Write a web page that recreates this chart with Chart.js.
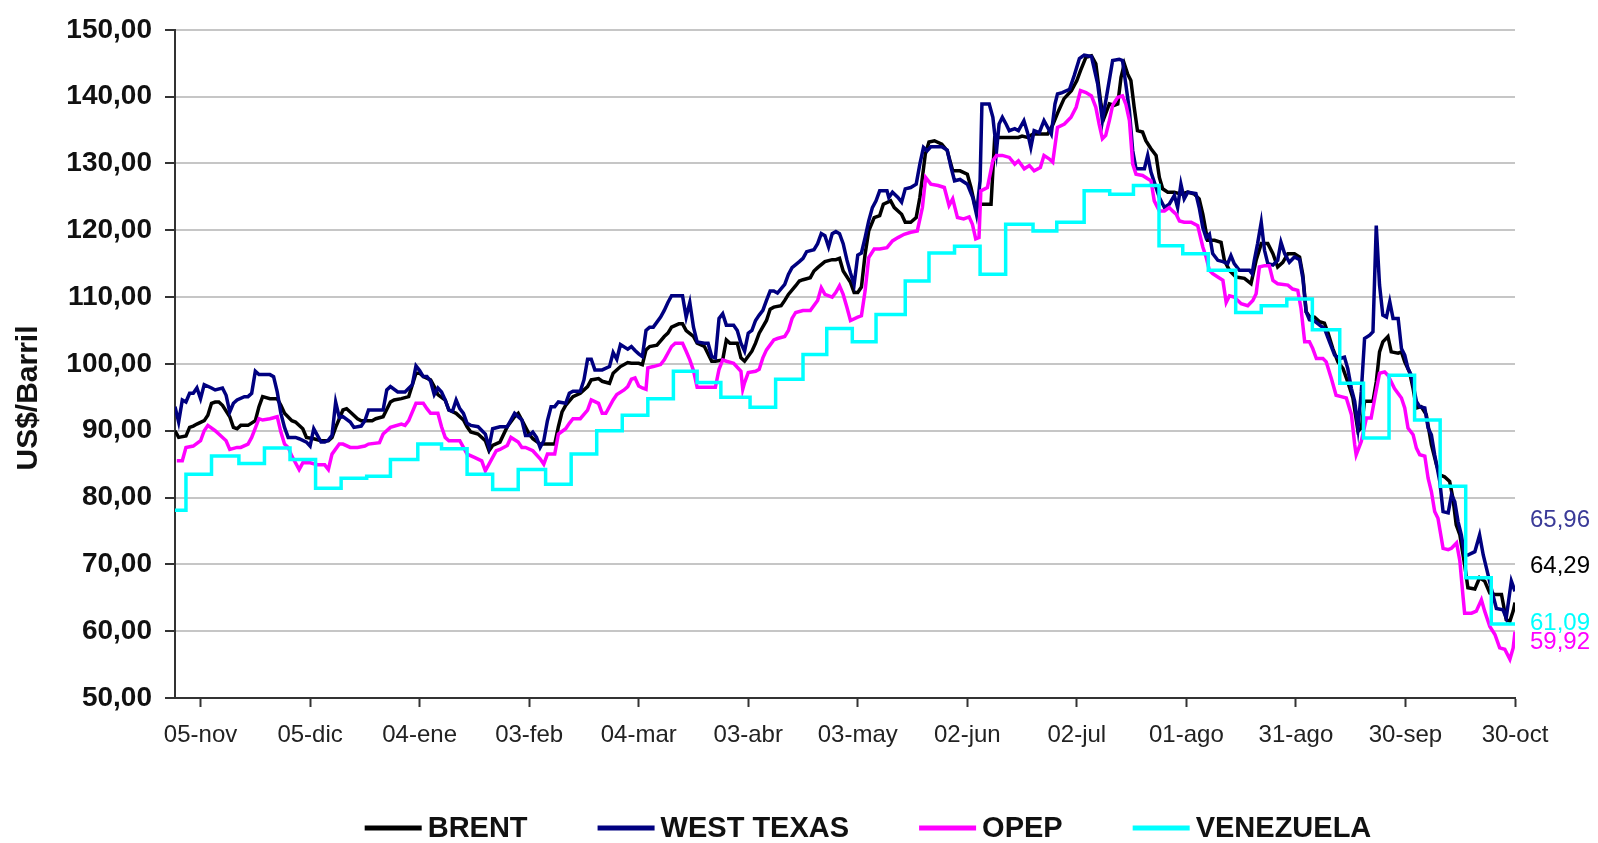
<!DOCTYPE html>
<html>
<head>
<meta charset="utf-8">
<title>Precios del petróleo</title>
<script src="https://cdn.jsdelivr.net/npm/chart.js@4.4.1/dist/chart.umd.min.js"></script>
<style>
  body { margin: 0; background: #fff; }
  canvas { display: block; }
</style>
</head>
<body>
<canvas id="oilChart" width="1598" height="843"></canvas>
<script>
// x = days counted from 29-oct-2007, y = US$/barril
const xTickDays = [7, 37, 67, 97, 127, 157, 187, 217, 247, 277, 307, 337, 367];
const xTickLabels = ["05-nov", "05-dic", "04-ene", "03-feb", "04-mar", "03-abr", "03-may",
  "02-jun", "02-jul", "01-ago", "31-ago", "30-sep", "30-oct"];
const seriesNames = ["BRENT", "WEST TEXAS", "OPEP", "VENEZUELA"];

const brent = [[0,90.0],[1,89.0],[3,89.2],[4,90.5],[5,90.7],[6,91.0],[8,91.5],[9,92.3],[10,94.1],[11,94.3],[12,94.3],[13,93.8],[15,92.1],[16,90.5],[17,90.3],[18,90.8],[20,90.8],[22,91.5],[23,93.6],[24,95.1],[26,94.8],[28,94.8],[29,93.8],[30,92.6],[32,91.5],[33,91.3],[35,90.3],[36,89.0],[38,88.8],[40,88.5],[42,88.5],[43,89.0],[44,90.5],[46,93.1],[47,93.3],[48,92.8],[50,91.8],[51,91.5],[54,91.5],[55,91.8],[57,92.1],[59,94.3],[60,94.6],[62,94.8],
  [64,95.1],[66,98.6],[67,98.6],[68,98.1],[70,97.6],[71,96.6],[72,95.4],[74,94.6],[75,93.1],[77,92.6],[79,91.6],[80,90.6],[81,89.8],[83,89.5],[85,88.5],[86,87.0],[87,87.8],[89,88.3],[91,90.6],[93,92.1],[94,92.6],[95,91.6],[97,89.5],[98,88.8],[100,88.0],[102,88.0],[104,88.0],[105,90.6],[106,92.8],[107,93.8],[109,95.1],[111,95.6],[113,96.6],[114,97.6],[116,97.8],[117,97.4],[119,97.1],[120,98.6],[122,99.6],[124,100.2],
  [125,100.1],[127,100.1],[128,99.9],[129,102.1],[130,102.6],[132,102.8],[134,104.1],[135,104.6],[136,105.5],[138,106.0],[139,106.0],[140,105.0],[142,104.1],[143,103.1],[145,102.6],[147,100.4],[148,100.4],[150,100.6],[151,103.6],[152,103.1],[154,103.1],[155,100.9],[156,100.4],[158,101.9],[159,103.1],[160,104.6],[162,106.5],[163,108.2],[164,108.5],[166,108.7],[167,109.5],[168,110.4],[170,111.7],[171,112.4],[172,112.6],[174,112.9],[175,113.9],[176,114.4],[178,115.3],[180,115.6],[181,115.6],[182,115.8],[183,113.9],[185,112.2],[186,110.7],[187,110.7],
  [188,111.5],[189,116.4],[190,119.9],[191.5,121.9],[193,122.2],[194,123.9],[196,124.4],[197,123.4],[199,122.4],[200,121.2],[201.5,121.2],[203,121.9],[204,124.9],[205.5,131.4],[206.5,133.2],[208,133.4],[210,132.9],[211.5,131.9],[213,128.9],[215,128.9],[217,128.4],[218,126.4],[219,123.9],[221,123.9],[223.5,123.9],[224.5,133.9],[231,133.9],[232,134.1],[233.5,133.9],[235,134.4],[239,134.4],[240.5,135.9],[242,137.9],[243.5,139.7],[245.5,140.9],[247,142.4],[248,143.9],[249.5,145.9],[251,146.1],
  [252.2,144.9],[253.6,138.9],[254.5,136.9],[255.9,138.9],[257.2,138.7],[258.2,138.9],[259.1,142.9],[260,144.9],[260.9,143.4],[261.8,142.4],[262.7,138.4],[263.6,134.9],[265,134.7],[265.9,133.4],[267.3,132.2],[268.7,131.2],[269.6,127.9],[270.5,126.2],[271.9,125.7],[273.7,125.7],[275.5,125.4],[277.4,125.7],[279.2,125.4],[280.5,124.7],[281.5,122.4],[282.8,118.5],[284.7,118.5],[286.5,118.2],[287.4,115.5],[288.8,114.0],[290.6,113.0],[292.9,112.8],[294.7,112.0],[296.1,115.5],[297.5,118.0],[299.3,118.0],[300.7,116.5],[302,114.5],[303.4,115.2],[304.8,116.5],[306.6,116.5],[308,116.0],
  [308.9,113.3],[309.8,107.8],[310.7,107.1],[312.1,107.0],[313.5,106.3],[314.8,106.1],[315.8,104.6],[317.1,102.3],[318.5,100.3],[319.9,99.3],[321.2,97.3],[322.6,94.9],[324,89.9],[324.9,90.4],[325.8,94.4],[328.1,94.4],[329,97.3],[329.9,101.8],[330.8,103.3],[332.2,104.1],[333.1,101.8],[335,101.6],[335.9,101.8],[336.8,100.3],[338.1,98.8],[339.1,96.3],[340,93.4],[341.3,93.6],[342.7,92.4],[344.1,87.9],[345.5,84.9],[346.4,83.4],[347.7,83.1],[349.1,82.4],[350,79.9],[350.9,75.9],[351.9,74.4],[353.2,70.0],[354.1,66.5],[356,66.3],[357.3,68.0],[358.7,67.5],[360.1,65.7],[361.5,65.5],[363.3,65.5],[364.6,61.7],[365.6,61.5],[366.5,63.0],[367,64.29]];

const westTexas = [[0,93.6],[1,91.3],[2,94.6],[3,94.3],[4,95.6],[5,95.6],[6,96.4],[7,94.8],[8,96.9],[10,96.4],[11,96.1],[13,96.4],[14,95.3],[15,92.8],[16,94.1],[17,94.6],[19,95.1],[20,95.1],[21,95.6],[22,98.9],[23,98.4],[24,98.4],[26,98.4],[27,98.1],[28,95.8],[29,92.6],[30,90.5],[31,89.0],[33,89.0],[34,88.8],[36,88.3],[37,87.7],[38,90.3],[39,89.3],[40,88.3],[41,88.3],[42,88.6],[43,89.3],[44,94.3],[45,92.0],[46,92.1],[48,91.3],[49,90.5],[51,90.7],[52,91.5],[53,93.1],[55,93.1],[57,93.1],[58,96.1],[59,96.6],[61,95.8],[63,95.8],
  [65,96.9],[66,99.7],[67,99.0],[68,98.1],[69,98.1],[70,97.4],[71,95.4],[72,96.4],[73,95.8],[74,94.6],[75,93.1],[76,92.9],[77,94.6],[78,93.3],[79,92.6],[80,91.1],[81,90.8],[83,90.6],[85,89.5],[86,87.5],[87,90.3],[89,90.6],[91,90.6],[92,91.6],[93,92.6],[95,91.6],[96,89.3],[97,89.3],[98,89.8],[99,89.0],[100,87.5],[101,88.5],[102,91.5],[103,93.6],[104,93.6],[105,94.3],[107,94.1],[108,95.6],[109,95.9],[111,95.9],[112,97.6],[113,100.7],[114,100.7],[115,99.1],[117,99.1],[119,99.6],[120,101.7],[121,100.7],[122,102.9],[124,102.2],
  [125,102.6],[126,102.0],[127,101.5],[128,101.1],[129,105.0],[130,105.5],[131,105.5],[133,107.0],[134,108.0],[135,109.2],[136,110.2],[139,110.2],[140,107.0],[141,109.2],[142,105.5],[143,103.3],[145,103.1],[146,103.1],[147,101.1],[148,100.9],[149,106.8],[150,107.5],[151,105.8],[153,105.8],[154,105.0],[155,103.1],[156,101.9],[157,104.6],[158,105.0],[159,106.5],[160,107.3],[161,108.0],[162,109.5],[163,110.9],[164,110.9],[165,110.6],[167,111.9],[168,113.4],[169,114.4],[171,115.3],[172,115.8],[173,116.8],[175,117.1],[176,118.0],[177,119.5],[178,119.2],[179,117.5],[180,119.5],[181,119.8],[182,119.5],[183,118.0],[184,115.6],[185,113.6],[186,111.9],[187,116.3],[188,116.6],
  [189,118.9],[190,121.4],[191,123.4],[192,124.4],[193,125.9],[195,125.9],[195.5,124.9],[196.5,125.7],[198,124.9],[199,124.2],[200,126.2],[201.5,126.4],[203,126.9],[204,129.9],[205,132.4],[206,131.9],[207,132.5],[210,132.5],[211.5,132.0],[212.5,129.5],[213.5,127.4],[215,127.6],[217,126.9],[218.5,124.9],[219.5,122.4],[220.5,127.4],[221,138.9],[223,138.9],[224,136.9],[225,131.9],[225.7,135.9],[226.6,136.9],[227.6,135.9],[228.5,134.9],[230,135.2],[231,134.9],[232.5,136.4],[233.5,134.6],[234.4,132.4],[235.3,134.9],[236.7,134.6],[238,136.4],[239,135.4],[240,134.4],[241,138.9],[241.7,140.4],[243,140.6],[245,141.1],[246.3,143.2],[247.7,145.7],[249,146.2],[251,146.0],
  [252.7,141.9],[254,136.4],[255.4,140.9],[256.8,145.4],[258.6,145.6],[259.5,145.4],[260.4,141.9],[261.4,137.9],[262.3,131.9],[263.2,129.2],[265.5,129.2],[266.4,131.2],[267.3,128.7],[268.2,127.2],[269.6,124.9],[271,123.4],[272.3,123.9],[273.7,125.2],[274.6,123.4],[275.5,126.9],[276.4,124.7],[277.4,125.7],[279.6,125.5],[280.5,123.4],[281.5,120.4],[282.4,118.9],[283.3,119.4],[284.2,116.5],[285.6,115.5],[287,115.3],[288.3,115.0],[289.2,116.2],[290.1,115.0],[291.5,114.0],[294.3,114.0],[295,113.5],[295.6,115.5],[296.5,118.0],[297.5,121.2],[298.4,117.0],[299.3,115.0],[300.7,114.8],[302,115.5],[302.9,118.2],[303.9,116.5],[305.2,115.2],[306.6,116.0],[308,115.6],
  [308.9,112.8],[309.8,107.8],[310.7,106.6],[312.1,106.4],[313.5,105.8],[314.8,105.3],[316.2,103.3],[317.6,101.3],[319,100.8],[320.3,101.0],[321.2,99.3],[322.2,96.3],[323.1,94.4],[324,90.4],[324.9,95.8],[325.8,103.8],[327.2,104.3],[328.1,104.8],[329,120.7],[329.9,111.8],[330.8,107.3],[331.8,107.0],[332.7,109.3],[333.6,106.8],[335,106.8],[335.9,102.3],[336.8,101.3],[337.7,99.3],[338.6,98.3],[340,94.4],[340.9,93.6],[342.3,93.4],[343.2,90.4],[344.1,89.4],[345,86.4],[346.4,82.4],[347.3,77.9],[348.7,77.7],[349.6,80.4],[350.5,79.4],[351.4,76.4],[352.3,74.4],[353.2,71.4],[354.1,71.4],[356,71.9],[357.3,74.4],[358.3,71.4],[359.2,69.4],[360.5,66.4],[361.9,63.4],[363.7,63.2],[364.6,62.0],[366,67.5],[367,65.96]];

const opep = [[0.5,85.5],[2,85.5],[3,87.5],[5,87.7],[7,88.5],[8,90.0],[9,90.8],[11,90.0],[12,89.5],[14,88.5],[15,87.2],[17,87.5],[18,87.5],[20,88.0],[21,89.0],[23,91.8],[24,91.6],[26,91.8],[28,92.1],[29,89.8],[30,88.0],[31,87.5],[32,86.2],[34,84.2],[35,85.2],[37,85.2],[39,84.9],[41,84.9],[42,84.2],[43,86.5],[45,88.0],[46,88.0],[48,87.5],[50,87.5],[52,87.7],[53,88.0],[56,88.2],[57,89.5],[59,90.5],[62,91.0],[63,90.8],[64,91.5],
  [66,94.1],[68,94.1],[69,93.3],[70,92.6],[72,92.6],[73,90.6],[74,89.0],[75,88.5],[78,88.5],[79,87.5],[80,86.5],[82,86.0],[84,85.5],[85,84.0],[86,85.0],[88,87.0],[89,87.2],[91,87.8],[92,89.0],[94,88.3],[95,87.5],[96,87.5],[98,87.0],[100,85.8],[101,85.0],[102,86.5],[104,86.5],[105,89.5],[107,90.3],[108,91.1],[109,91.8],[111,91.8],[113,93.1],[114,94.6],[116,94.1],[117,92.6],[118,92.6],[120,94.6],[121,95.4],[123,96.1],[124,96.6],
  [125,97.7],[126,97.9],[127,96.7],[128,96.4],[129,96.2],[129.5,99.4],[131,99.6],[133,99.9],[134,100.6],[136,102.6],[137,103.1],[139,103.1],[140,101.9],[141,100.6],[142,99.0],[143,96.5],[145,96.5],[148,96.5],[149,99.2],[150,100.6],[151,100.4],[153,100.1],[155,98.9],[155.5,96.2],[156,97.2],[157,98.7],[159,98.9],[160,99.2],[161,100.9],[162,102.1],[164,103.6],[165,103.8],[167,104.1],[168,105.0],[169,106.8],[170,107.7],[172,108.0],[174,108.0],[176,109.5],[177,111.4],[178,110.4],[180,110.0],[181,110.7],[182,111.7],[183,110.4],[184,108.5],[185,106.5],[187,107.0],
  [188,107.2],[189,110.9],[190,115.9],[191.5,117.2],[193,117.2],[195,117.4],[196.5,118.4],[198,118.9],[199.7,119.4],[201.5,119.7],[203.3,119.9],[204.7,123.4],[205.6,127.9],[207,126.9],[209,126.7],[210.7,126.4],[212,123.7],[213,124.7],[214.3,121.9],[216,121.7],[217.5,122.0],[218.4,120.9],[219.3,118.7],[220.2,118.9],[220.7,125.9],[222.5,126.4],[224,130.4],[225,131.2],[226.6,131.2],[228.5,130.9],[230,129.9],[231,130.4],[232.6,129.2],[234,129.7],[235.3,128.9],[237,129.4],[238,131.2],[239.4,130.7],[240.4,130.2],[241.7,135.4],[243.6,135.9],[245.4,136.9],[246.8,138.4],[248,140.9],[249.5,140.6],[251,140.1],
  [252.2,138.4],[253.1,135.9],[254,133.7],[254.9,134.2],[255.9,136.4],[256.8,138.7],[258.2,139.9],[259.5,140.1],[260.4,138.9],[261.4,136.4],[262.3,129.9],[263.2,128.4],[265,128.2],[266.4,127.7],[267.3,127.4],[268.2,124.4],[269.6,122.9],[271,122.9],[272.3,123.4],[273.2,122.9],[274.2,122.4],[275.1,121.4],[276.4,121.2],[278.3,121.2],[280.1,120.7],[281.5,117.5],[282.4,116.0],[283.3,114.0],[284.2,113.5],[285.6,113.0],[287,112.5],[287.9,109.2],[288.8,110.2],[290.1,110.0],[292,109.0],[293.8,108.7],[295.2,109.5],[296.1,110.5],[297,114.5],[298.4,114.7],[299.7,114.7],[300.7,112.5],[302,112.0],[304.8,111.8],[306.1,111.2],[307.5,111.0],[308.4,108.3],[309.4,103.3],[310.7,103.3],
  [311.6,102.3],[312.6,100.8],[314.4,100.8],[315.3,100.3],[316.7,97.8],[318,95.3],[319.4,95.1],[320.8,94.9],[322.2,92.4],[323.1,87.9],[323.5,86.4],[324.9,88.4],[326.3,91.9],[327.6,91.9],[328.6,94.9],[329.9,98.6],[331.3,98.8],[332.2,98.3],[334,96.3],[335.9,94.9],[336.8,93.4],[337.7,90.4],[339.1,89.4],[340,87.4],[340.9,86.4],[342.3,86.2],[343.2,82.9],[344.1,80.9],[345,77.9],[345.9,76.9],[347.3,72.4],[348.7,72.2],[349.6,72.4],[351,73.2],[351.9,70.5],[352.8,65.0],[353.2,62.7],[355.1,62.7],[356.4,63.0],[357.8,64.7],[358.7,63.0],[360.1,60.7],[361.5,59.5],[362.8,57.5],[364.2,57.3],[365.6,55.8],[366.5,57.5],[367,59.92]];

// weekly price: each value holds until the next change
const venezuela = [[0,78.1],[3,83.5],[10,86.2],[17.5,85.1],[24.5,87.4],[31.5,85.7],[38.5,81.4],[45.5,82.9],[52.5,83.2],[59,85.7],[66.5,88.0],[73,87.3],[80,83.5],[87,81.2],[94,84.2],[101.5,82.0],[108.5,86.5],[115.5,90.0],[122.5,92.3],[129.5,94.8],[136.5,98.9],[143,97.2],[149.5,95.0],[157.5,93.5],[164.5,97.7],[172,101.4],[178.5,105.3],[185.5,103.3],[192,107.4],[200,112.4],[206.5,116.6],[213.5,117.6],[220.5,113.4],[227.5,120.9],[235,119.9],[241.5,121.2],[249,125.9],[256,125.4],[262.5,126.7],[269.5,117.7],[276,116.5],[283,114.0],[290.5,107.7],[297.5,108.7],[304.5,109.7],[311.5,105.1],[319,97.1],[325.5,88.9],[332.5,98.3],[339.5,91.6],[346.5,81.7],[353.5,68.0],[360.5,61.09],[367,61.09]];

const lineColors = ["#000000", "#000080", "#ff00ff", "#00ffff"];
const endLabelColors = ["#000000", "#3a3a98", "#ff00ff", "#00ffff"];
// end labels were nudged apart in the original so they don't overlap
const endLabelShift = [-36, -71, 11, -1];

const FONT = '"Liberation Sans", Arial, sans-serif';
Chart.defaults.font.family = FONT;

const fmt = v => v.toFixed(2).replace(".", ",");
const toPoints = arr => arr.map(([x, y]) => ({ x, y }));

const extras = {
  id: "extras",
  afterDraw(chart) {
    const ctx = chart.ctx;
    const area = chart.chartArea;
    const yScale = chart.scales.y;
    const sets = chart.data.datasets;

    // axis title
    ctx.save();
    ctx.translate(29, 398);
    ctx.rotate(-Math.PI / 2);
    ctx.font = "bold 30px " + FONT;
    ctx.fillStyle = "#111";
    ctx.textAlign = "center";
    ctx.textBaseline = "middle";
    ctx.fillText("US$/Barril", 0, 0);
    ctx.restore();

    // last values at the right
    ctx.save();
    ctx.font = "24px " + FONT;
    ctx.textAlign = "left";
    ctx.textBaseline = "middle";
    sets.forEach((ds, i) => {
      const last = ds.data[ds.data.length - 1];
      ctx.fillStyle = endLabelColors[i];
      ctx.fillText(fmt(last.y), area.right + 15, yScale.getPixelForValue(last.y) + endLabelShift[i]);
    });
    ctx.restore();

    // legend
    ctx.save();
    ctx.font = "bold 29px " + FONT;
    ctx.textBaseline = "middle";
    const lineLen = 57, gap = 6, itemGap = 70, ly = 828;
    const widths = sets.map(ds => lineLen + gap + ctx.measureText(ds.label).width);
    const total = widths.reduce((a, b) => a + b, 0) + itemGap * (sets.length - 1);
    let x = 868 - total / 2;
    sets.forEach((ds, i) => {
      ctx.fillStyle = ds.borderColor;
      ctx.fillRect(x, ly - 2.5, lineLen, 5);
      ctx.fillStyle = "#111";
      ctx.fillText(ds.label, x + lineLen + gap, ly + 1);
      x += widths[i] + itemGap;
    });
    ctx.restore();
  }
};

const allSeries = [brent, westTexas, opep, venezuela];

new Chart(document.getElementById("oilChart"), {
  type: "line",
  data: {
    datasets: allSeries.map((s, i) => ({
      label: seriesNames[i],
      data: toPoints(s),
      borderColor: lineColors[i],
      backgroundColor: lineColors[i],
      borderWidth: 3.5,
      pointRadius: 0,
      tension: 0,
      stepped: i === 3,
      order: 4 - i
    }))
  },
  options: {
    responsive: false,
    animation: false,
    layout: { padding: { top: 28, right: 83, bottom: 85, left: 0 } },
    plugins: { legend: { display: false }, tooltip: { enabled: false } },
    scales: {
      x: {
        type: "linear",
        min: 0,
        max: 367,
        afterBuildTicks: axis => { axis.ticks = xTickDays.map(v => ({ value: v })); },
        afterFit: axis => { axis.height = 60; },
        ticks: {
          autoSkip: false,
          maxRotation: 0,
          padding: 14,
          color: "#222",
          font: { size: 24 },
          callback: v => xTickLabels[xTickDays.indexOf(v)]
        },
        grid: { drawOnChartArea: false, tickLength: 9, tickColor: "#333", tickWidth: 2 },
        border: { color: "#333", width: 2 }
      },
      y: {
        min: 50,
        max: 150,
        afterFit: axis => { axis.width = 175; },
        ticks: {
          stepSize: 10,
          padding: 13,
          color: "#111",
          font: { size: 28, weight: "bold" },
          callback: v => fmt(v)
        },
        grid: { color: "#c6c6c6", lineWidth: 2, tickLength: 10, tickColor: "#333", tickWidth: 2 },
        border: { color: "#333", width: 2 }
      }
    }
  },
  plugins: [extras]
});
</script>
</body>
</html>
